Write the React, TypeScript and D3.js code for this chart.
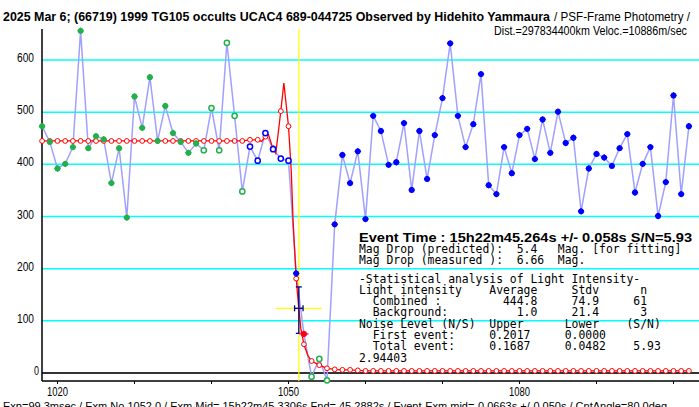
import React from 'react';
import * as d3 from 'd3';

const firstFrame = 1018;

// observed light intensity per frame (1018 .. 1102)
const intensity = [
  473, 443, 392, 401, 433, 656, 431, 454, 448, 364, 431, 298, 530, 470, 567, 445, 512, 460, 443, 422, 440,
  427, 508, 427, 633, 493, 348,
  434, 407, 460, 429, 411, 407,
  191, 75, -7, 27, -14,
  285, 418, 364, 425, 295, 493, 464, 399, 404, 479, 351, 464, 372, 456, 527, 632, 493, 433, 477, 573,
  360, 343, 433, 383, 456, 468, 410, 486, 422, 501, 441, 451, 310, 392, 420, 413, 397, 431, 458, 346,
  401, 433, 301, 366, 532, 343, 473,
];

// G green filled, g green open, b blue open, B blue filled, R event frame
const markerKinds =
  'GGGGGGGGGGGGGGGGGGGGG' + 'gggggg' + 'bbbbbb' + 'B' + 'R' + 'ggg' +
  'BBBBBBBBBBBBBBBBBBBBBBBBBBBBBBBBBBBBBBBBBBBBBBB';

// fitted model at each frame
const modelValues = [
  444.8, 444.8, 444.8, 444.8, 444.8, 444.8, 444.8, 444.8, 444.8, 444.8, 444.8, 444.8, 444.8, 444.8,
  444.8, 444.8, 444.8, 444.8, 444.8, 444.8, 444.8, 444.8, 444.8, 444.8, 444.8, 444.8, 444.8,
  447, 447, 453, 431, 502, 473, 181, 55, 23, 15, 9, 7, 6, 6, 5,
  4, 4, 4, 4, 4, 4, 4, 4, 4, 4, 4, 4, 4, 4, 4, 4, 4, 4, 4, 4, 4, 4, 4, 4, 4, 4, 4, 4, 4, 4, 4,
  4, 4, 4, 4, 4, 4, 4, 4, 4, 4, 4, 4,
];

// extra vertices of the model between frames (diffraction fringes)
const modelSubFrames: [number, number][] = [
  [1046.5, 444], [1047.4, 457], [1047.8, 438], [1048.35, 421], [1048.6, 452], [1049.4, 556],
  [1050.35, 390], [1050.6, 290], [1051.3, 130], [1051.6, 85], [1052.5, 34],
];

const eventFrame = 1051.34;
const eventLevel = 124;
const eventFrameErr = 0.55;
const eventLevelRange = [76, 165];
const eventSpan = 3;
const eventPointErr = 0.6;

const yTicks = [0, 100, 200, 300, 400, 500, 600];
const xTicks = [1020, 1030, 1040, 1050, 1060, 1070, 1080, 1090, 1100];
const xLabels = [1020, 1050, 1080];

const titleBold = '2025 Mar 6; (66719) 1999 TG105 occults UCAC4 689-044725 Observed by Hidehito Yammaura';
const titleRest = '/ PSF-Frame Photometry /';
const subTitle = 'Dist.=297834400km Veloc.=10886m/sec';
const eventLine = 'Event Time : 15h22m45.264s  +/- 0.058s  S/N=5.93';
const magLines = [
  'Mag Drop (predicted):  5.4   Mag. [for fitting]',
  'Mag Drop (measured ):  6.66  Mag.',
];
const statLines = [
  '-Statistical analysis of Light Intensity-',
  'Light intensity    Average     Stdv      n',
  '  Combined :         444.8     74.9     61',
  '  Background:          1.0     21.4      3',
  'Noise Level (N/S)  Upper      Lower    (S/N)',
  '  First event:     0.2017     0.0000',
  '  Total event:     0.1687     0.0482    5.93',
  '2.94403',
];
const footer =
  'Exp=99.3msec / Exm No.1052.0 / Exm Mid= 15h22m45.3306s  Fnd= 45.2882s / Event-Exm mid=-0.0663s +/-0.050s / CntAngle=80.0deg';

const W = 699, H = 407;
const plotLeft = 42, plotRight = 699, plotTop = 29, axisY = 381;

const App: React.FC = () => {
  const x = d3.scaleLinear().domain([1020, 1080]).range([57.5, 519.5]);
  const y = d3.scaleLinear().domain([0, 600]).range([373, 60]);

  const points = intensity.map((v, i) => ({ f: firstFrame + i, v, k: markerKinds[i] }));
  const model = modelValues.map((v, i) => [firstFrame + i, v] as [number, number]);
  const modelCurve = [...model, ...modelSubFrames].sort((a, b) => a[0] - b[0]);

  const obsLine = d3.line<{ f: number; v: number }>().x(d => x(d.f)).y(d => y(d.v));
  const modelLine = d3.line<[number, number]>().x(d => x(d[0])).y(d => y(d[1]));

  const green = '#22b04a';
  const blue = '#0000ff';
  const diamond = d3.symbol().type(d3.symbolDiamond2).size(30)() as string;

  const ex = x(eventFrame), ey = y(eventLevel);
  const evPt = points.find(p => p.k === 'R')!;

  return (
    <svg width={W} height={H} style={{ position: 'absolute', left: 0, top: 0, background: '#fff' }}
      fontFamily="'Liberation Sans', Arial, sans-serif">
      {/* grid */}
      {yTicks.filter(t => t > 0).map(t => (
        <line key={t} x1={plotLeft} x2={plotRight} y1={y(t)} y2={y(t)} stroke="#00ffff" strokeWidth={1.5} />
      ))}
      <line x1={plotLeft} x2={plotRight} y1={y(0)} y2={y(0)} stroke="#333" strokeWidth={2} />

      {/* axes */}
      <line x1={plotLeft} x2={plotLeft} y1={plotTop} y2={axisY} stroke="#000" strokeWidth={1.5} />
      <line x1={plotLeft} x2={plotRight} y1={axisY} y2={axisY} stroke="#000" strokeWidth={1.5} />
      {xTicks.map(t => (
        <line key={t} x1={x(t)} x2={x(t)} y1={axisY} y2={axisY + 3} stroke="#000" />
      ))}
      {xLabels.map(t => (
        <text key={t} x={x(t)} y={396} fontSize={12} textAnchor="middle" textLength={21}
          lengthAdjust="spacingAndGlyphs">{t}</text>
      ))}
      {yTicks.map(t => (
        <text key={t} x={t === 0 ? 39 : 34} y={y(t) + 2} fontSize={12} textAnchor="end"
          textLength={t === 0 ? 5 : 17} lengthAdjust="spacingAndGlyphs">{t}</text>
      ))}

      {/* event time */}
      <line x1={ex} x2={ex} y1={plotTop} y2={axisY} stroke="#ffff00" strokeWidth={1.2} />
      <line x1={x(eventFrame - eventSpan)} x2={x(eventFrame + eventSpan)} y1={ey} y2={ey}
        stroke="#ffff00" strokeWidth={1.2} />

      {/* observed light curve */}
      <path d={obsLine(points) || ''} fill="none" stroke="#a0a0ff" strokeWidth={1.5} />

      {/* model */}
      <path d={modelLine(modelCurve) || ''} fill="none" stroke="#ff0000" strokeWidth={1.3} />
      {model.map(([f, v]) => (
        <circle key={f} cx={x(f)} cy={y(v)} r={2.4} fill="#fff" stroke="#ff0000" strokeWidth={1} />
      ))}

      {/* markers */}
      {points.map(p => {
        const cx = x(p.f), cy = y(p.v);
        if (p.k === 'G' || p.k === 'B') {
          const c = p.k === 'G' ? green : blue;
          return (
            <g key={p.f} transform={`translate(${cx},${cy})`}>
              <path d={diamond} fill={c} />
              <circle r={2.9} fill={c} />
            </g>
          );
        }
        if (p.k === 'g' || p.k === 'b') {
          return (
            <circle key={p.f} cx={cx} cy={cy} r={2.6} fill="#fff"
              stroke={p.k === 'g' ? green : blue} strokeWidth={1.5} />
          );
        }
        return null;
      })}

      {/* error bars of the event */}
      <g stroke="#000080" strokeWidth={1.3}>
        <line x1={ex} x2={ex} y1={y(eventLevelRange[0])} y2={y(eventLevelRange[1])} />
        <line x1={ex - 3} x2={ex + 3} y1={y(eventLevelRange[0])} y2={y(eventLevelRange[0])} />
        <line x1={ex - 3} x2={ex + 3} y1={y(eventLevelRange[1])} y2={y(eventLevelRange[1])} />
        <line x1={x(eventFrame - eventFrameErr)} x2={x(eventFrame + eventFrameErr)} y1={ey} y2={ey} />
        <line x1={x(eventFrame - eventFrameErr)} x2={x(eventFrame - eventFrameErr)} y1={ey - 3} y2={ey + 3} />
        <line x1={x(eventFrame + eventFrameErr)} x2={x(eventFrame + eventFrameErr)} y1={ey - 3} y2={ey + 3} />
      </g>
      <line x1={x(evPt.f - eventPointErr)} x2={x(evPt.f + eventPointErr)} y1={y(evPt.v)} y2={y(evPt.v)}
        stroke="#ff40ff" strokeWidth={2} />
      <g transform={`translate(${x(evPt.f)},${y(evPt.v)})`}>
        <path d={diamond} fill="#ff0000" />
        <circle r={3} fill="#ff0000" />
      </g>

      {/* titles */}
      <text x={3} y={21} fontSize={12.5} fontWeight="bold" textLength={547}
        lengthAdjust="spacingAndGlyphs">{titleBold}</text>
      <text x={554} y={21} fontSize={12} textLength={136} lengthAdjust="spacingAndGlyphs">{titleRest}</text>
      <text x={494} y={35} fontSize={12} textLength={193} lengthAdjust="spacingAndGlyphs">{subTitle}</text>

      {/* info block */}
      <text x={359} y={242} fontSize={13} fontWeight="bold" textLength={333}
        lengthAdjust="spacingAndGlyphs">{eventLine}</text>
      <g fontFamily="'DejaVu Sans Mono', monospace" fontSize={11.4}>
        {magLines.map((s, i) => (
          <text key={i} x={359} y={253 + i * 10.8} style={{ whiteSpace: 'pre' }}>{s}</text>
        ))}
        {statLines.map((s, i) => (
          <text key={i} x={359} y={282.5 + i * 11.3} style={{ whiteSpace: 'pre' }}>{s}</text>
        ))}
      </g>

      <text x={3} y={410} fontSize={11}>{footer}</text>
    </svg>
  );
};

export default App;
